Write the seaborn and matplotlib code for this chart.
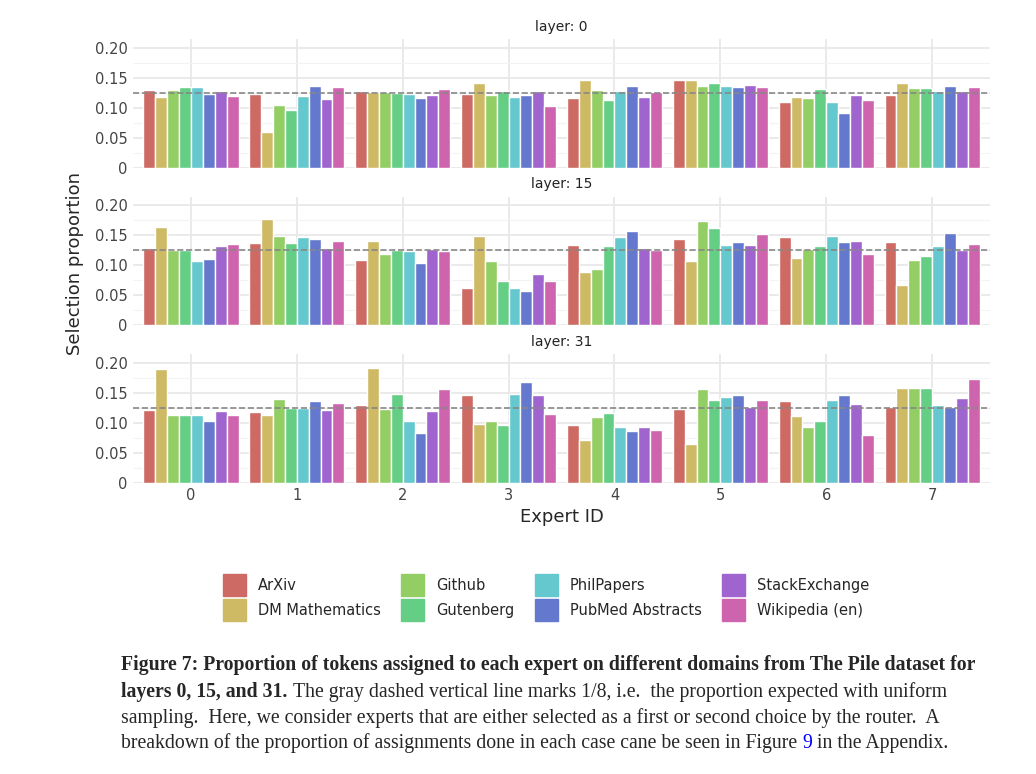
import matplotlib
matplotlib.use("Agg")
import matplotlib.pyplot as plt
import numpy as np
import pandas as pd
import seaborn as sns

sns.set_style("whitegrid")
plt.rcParams["font.family"] = ["DejaVu Sans"]

domains = ["ArXiv", "DM Mathematics", "Github", "Gutenberg", "PhilPapers",
           "PubMed Abstracts", "StackExchange", "Wikipedia (en)"]
experts = list(range(8))
layers = [0, 15, 31]

# proportion[expert][domain]
layer0 = [
    [.130, .118, .130, .135, .135, .123, .129, .120],
    [.123, .060, .105, .096, .120, .137, .115, .135],
    [.129, .127, .127, .125, .123, .117, .122, .132],
    [.123, .141, .122, .129, .118, .122, .129, .103],
    [.117, .147, .130, .113, .129, .137, .118, .127],
    [.147, .147, .137, .141, .137, .135, .139, .135],
    [.110, .118, .117, .132, .110, .091, .122, .113],
    [.122, .141, .134, .134, .129, .137, .129, .135],
]
layer15 = [
    [.128, .163, .125, .125, .106, .110, .132, .135],
    [.137, .177, .149, .137, .147, .144, .128, .140],
    [.108, .140, .118, .125, .123, .103, .127, .123],
    [.061, .149, .106, .073, .061, .056, .085, .073],
    [.134, .089, .094, .132, .146, .156, .128, .125],
    [.144, .106, .173, .161, .134, .139, .134, .151],
    [.146, .111, .127, .132, .149, .139, .140, .118],
    [.139, .067, .108, .115, .132, .153, .125, .135],
]
layer31 = [
    [.122, .190, .113, .113, .113, .104, .120, .113],
    [.118, .113, .140, .125, .125, .137, .122, .134],
    [.130, .192, .123, .149, .103, .084, .120, .156],
    [.147, .099, .103, .097, .149, .168, .146, .115],
    [.097, .072, .110, .116, .094, .087, .094, .089],
    [.123, .065, .156, .139, .144, .146, .127, .139],
    [.137, .111, .094, .103, .139, .147, .132, .080],
    [.127, .158, .159, .158, .130, .127, .142, .173],
]
values = {0: layer0, 15: layer15, 31: layer31}

rows = []
for layer in layers:
    for e in experts:
        for d, dom in enumerate(domains):
            rows.append({"layer": layer, "expert": e, "domain": dom,
                         "prop": values[layer][e][d]})
df = pd.DataFrame(rows)

palette = sns.color_palette("hls", 8, desat=0.8)
fig = plt.figure(figsize=(10.36, 7.74), dpi=100)
bottoms = [0.783, 0.580, 0.376]
axes = []
for layer, b in zip(layers, bottoms):
    ax = fig.add_axes([0.128, b, 0.828, 0.166])
    sub = df[df.layer == layer]
    sns.barplot(data=sub, x="expert", y="prop", hue="domain", hue_order=domains,
                palette=palette, width=0.9, ax=ax, legend=False, saturation=1)
    ax.axhline(1 / 8, color="#888888", ls="--", lw=1.2)
    ax.set_ylim(0, 0.214)
    ax.set_xlim(-0.55, 7.55)
    ax.set_yticks([0, 0.05, 0.10, 0.15, 0.20])
    ax.set_yticklabels(["0", "0.05", "0.10", "0.15", "0.20"], color="#444444", fontsize=10.5)
    ax.set_yticks([0.025, 0.075, 0.125, 0.175], minor=True)
    ax.grid(True, which="major", color="#e8e8e8", lw=1.3)
    ax.grid(True, which="minor", axis="y", color="#f3f3f3", lw=0.8)
    ax.set_axisbelow(True)
    for s in ax.spines.values():
        s.set_visible(False)
    ax.tick_params(length=0)
    ax.set_xlabel("")
    ax.set_ylabel("")
    ax.set_title(f"layer: {layer}", fontsize=10, color="#222222", pad=6)
    if layer != 31:
        ax.set_xticklabels([])
    else:
        ax.set_xticklabels([str(e) for e in experts], color="#444444", fontsize=10.5)
    axes.append(ax)

axes[-1].set_xlabel("Expert ID", fontsize=13)
fig.text(0.072, 0.66, "Selection proportion", rotation=90, ha="center", va="center",
         fontsize=13)

handles = [plt.Rectangle((0, 0), 1, 1, color=c) for c in palette]
fig.legend(handles, domains, ncol=4, loc="center", bbox_to_anchor=(0.527, 0.228),
           frameon=False, fontsize=10.5, handlelength=1.6, handleheight=1.9,
           columnspacing=1.4, labelspacing=0.25, handletextpad=0.8)

serif = ["Liberation Serif", "DejaVu Serif"]
fs = 14.2
x0 = 0.117
fig.text(x0, 0.134, "Figure 7: Proportion of tokens assigned to each expert on different domains from The Pile dataset for",
         family=serif, fontsize=fs, weight="bold", va="baseline")
t = fig.text(x0, 0.100, "layers 0, 15, and 31.", family=serif, fontsize=fs,
             weight="bold", va="baseline")
r = fig.canvas.get_renderer()
bb = t.get_window_extent(r)
fig.text(bb.x1 / fig.bbox.width + 0.005, 0.100,
         "The gray dashed vertical line marks 1/8, i.e.  the proportion expected with uniform",
         family=serif, fontsize=fs, va="baseline")
fig.text(x0, 0.066, "sampling.  Here, we consider experts that are either selected as a first or second choice by the router.  A",
         family=serif, fontsize=fs, va="baseline")
t2 = fig.text(x0, 0.033, "breakdown of the proportion of assignments done in each case cane be seen in Figure ",
              family=serif, fontsize=fs, va="baseline")
bb2 = t2.get_window_extent(r)
t3 = fig.text(bb2.x1 / fig.bbox.width, 0.033, "9", family=serif, fontsize=fs,
              va="baseline", color="blue")
bb3 = t3.get_window_extent(r)
fig.text(bb3.x1 / fig.bbox.width, 0.033, " in the Appendix.", family=serif,
         fontsize=fs, va="baseline")

fig.savefig("out.png", dpi=100)
